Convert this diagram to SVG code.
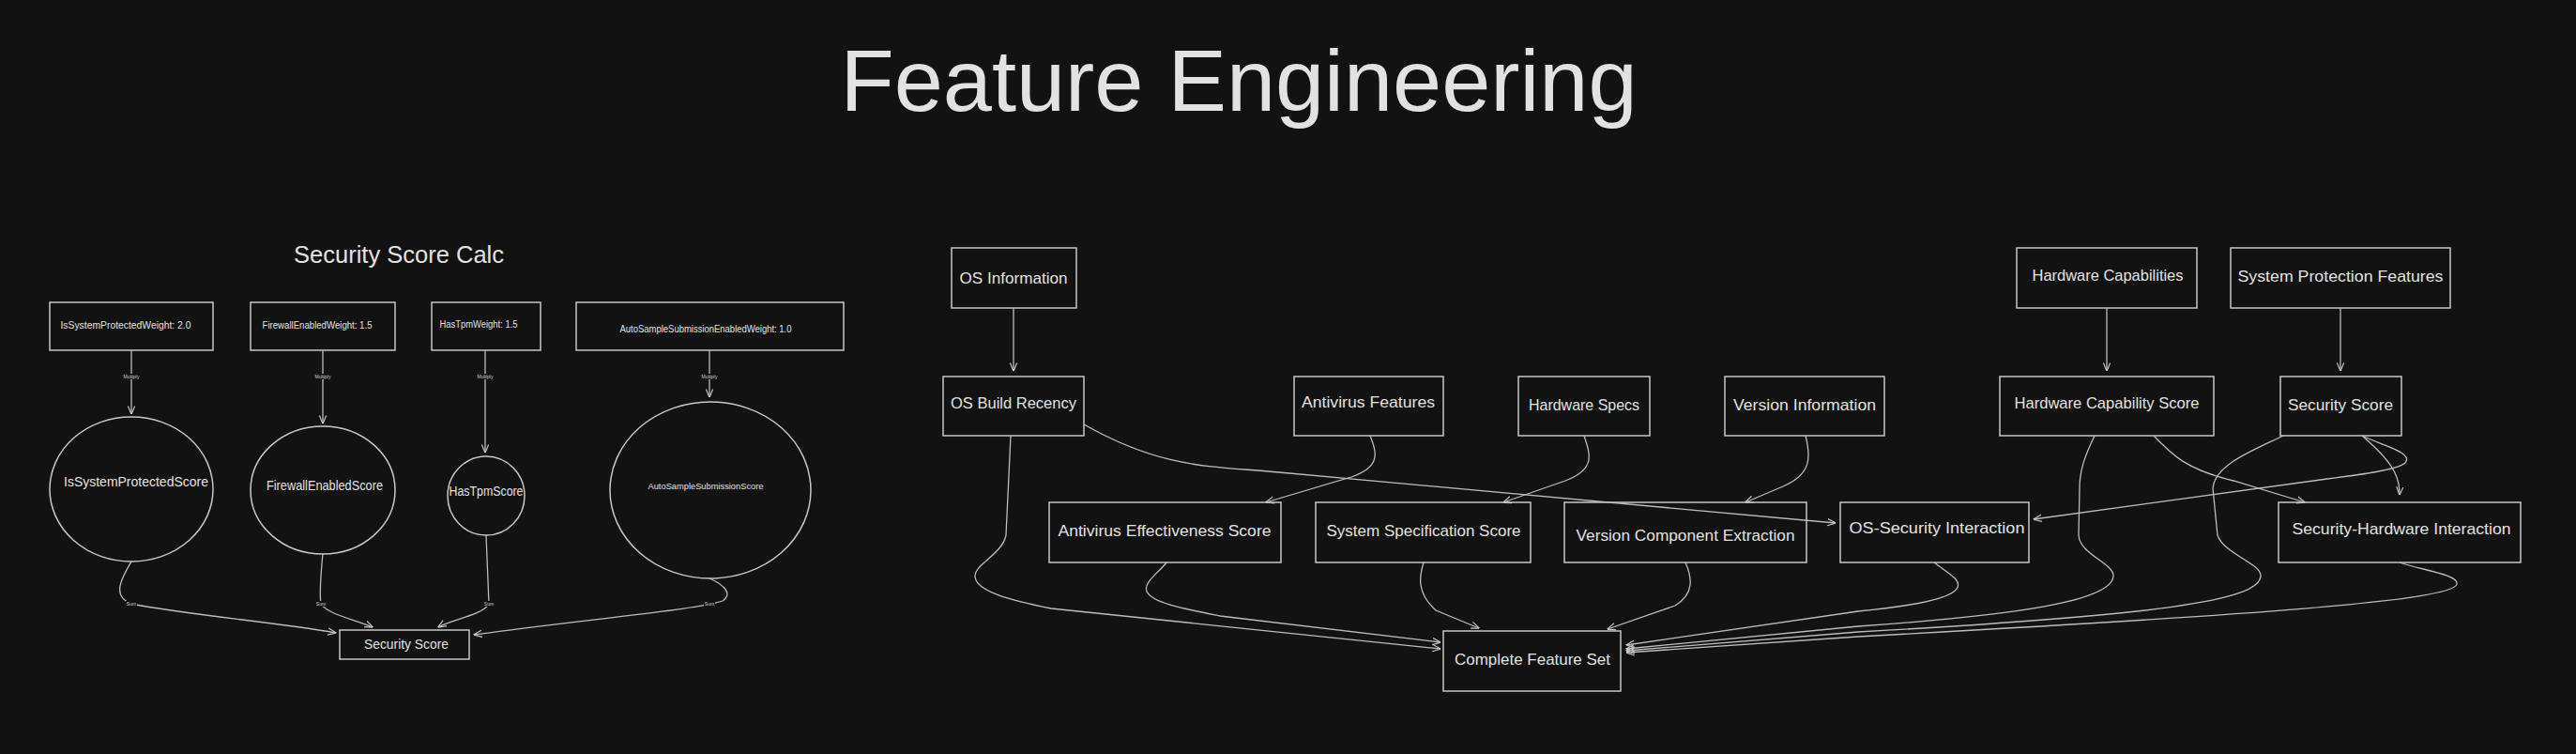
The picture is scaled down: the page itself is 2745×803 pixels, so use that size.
<svg xmlns="http://www.w3.org/2000/svg" width="2745" height="803" viewBox="0 0 2745 803">
<defs>
<style>
.bg{fill:#121212}
.box{fill:#121212;stroke:#c8c8c8;stroke-width:1.5}
.t{fill:#e2e2e2;font-family:"Liberation Sans",Arial,sans-serif;text-anchor:middle}
.n{font-size:17px}
.e{fill:none;stroke:#bdbdbd;stroke-width:1.3;marker-end:url(#arr)}
.lbl{fill:#121212}
.lt{fill:#cfcfcf;font-family:"Liberation Sans",Arial,sans-serif;font-size:5px;text-anchor:middle}
</style>
<marker id="arr" viewBox="0 0 10 10" refX="9.5" refY="5" markerWidth="9" markerHeight="9" markerUnits="userSpaceOnUse" orient="auto">
<path d="M0,1 L10,5 L0,9" fill="none" stroke="#c8c8c8" stroke-width="1.3"/>
</marker>
</defs>
<rect class="bg" x="0" y="0" width="2745" height="803"/>
<text class="t" x="1320" y="118" font-size="92" textLength="849" lengthAdjust="spacingAndGlyphs">Feature Engineering</text>
<text class="t" x="425" y="280" font-size="26" textLength="224" lengthAdjust="spacingAndGlyphs">Security Score Calc</text>

<g id="w1"><rect class="box" x="53" y="322" width="174" height="51"/><text class="t" x="134" y="350" font-size="10" textLength="139" lengthAdjust="spacingAndGlyphs">IsSystemProtectedWeight: 2.0</text></g>
<g id="w2"><rect class="box" x="267" y="322" width="154" height="51"/><text class="t" x="338" y="350" font-size="10" textLength="117" lengthAdjust="spacingAndGlyphs">FirewallEnabledWeight: 1.5</text></g>
<g id="w3"><rect class="box" x="460" y="322" width="116" height="51"/><text class="t" x="510" y="349" font-size="10" textLength="83" lengthAdjust="spacingAndGlyphs">HasTpmWeight: 1.5</text></g>
<g id="w4"><rect class="box" x="614" y="322" width="285" height="51"/><text class="t" x="752" y="354" font-size="10" textLength="183" lengthAdjust="spacingAndGlyphs">AutoSampleSubmissionEnabledWeight: 1.0</text></g>
<g id="e1"><ellipse class="box" cx="140" cy="521" rx="87" ry="77"/><text class="t" x="145" y="518" font-size="15" textLength="154" lengthAdjust="spacingAndGlyphs">IsSystemProtectedScore</text></g>
<g id="e2"><ellipse class="box" cx="344" cy="522" rx="77" ry="68"/><text class="t" x="346" y="522" font-size="15" textLength="124" lengthAdjust="spacingAndGlyphs">FirewallEnabledScore</text></g>
<g id="e3"><ellipse class="box" cx="518" cy="528" rx="41" ry="42"/><text class="t" x="518" y="528" font-size="14" textLength="79" lengthAdjust="spacingAndGlyphs">HasTpmScore</text></g>
<g id="e4"><ellipse class="box" cx="757" cy="522" rx="107" ry="94"/><text class="t" x="752" y="521" font-size="9" textLength="123" lengthAdjust="spacingAndGlyphs">AutoSampleSubmissionScore</text></g>
<g id="secscore_calc"><rect class="box" x="362" y="671" width="138" height="31"/><text class="t" x="433" y="691" font-size="14" textLength="90" lengthAdjust="spacingAndGlyphs">Security Score</text></g>

<g id="osinfo"><rect class="box" x="1014" y="264" width="133" height="64"/><text class="t n" x="1080" y="302" textLength="115" lengthAdjust="spacingAndGlyphs">OS Information</text></g>
<g id="osbuild"><rect class="box" x="1005" y="401" width="150" height="63"/><text class="t n" x="1080" y="435" textLength="134" lengthAdjust="spacingAndGlyphs">OS Build Recency</text></g>
<g id="avf"><rect class="box" x="1379" y="401" width="159" height="63"/><text class="t n" x="1458" y="434" textLength="142" lengthAdjust="spacingAndGlyphs">Antivirus Features</text></g>
<g id="hws"><rect class="box" x="1618" y="401" width="140" height="63"/><text class="t n" x="1688" y="437" textLength="118" lengthAdjust="spacingAndGlyphs">Hardware Specs</text></g>
<g id="veri"><rect class="box" x="1838" y="401" width="170" height="63"/><text class="t n" x="1923" y="437" textLength="152" lengthAdjust="spacingAndGlyphs">Version Information</text></g>
<g id="hwcap"><rect class="box" x="2149" y="264" width="192" height="64"/><text class="t n" x="2246" y="299" textLength="161" lengthAdjust="spacingAndGlyphs">Hardware Capabilities</text></g>
<g id="spf"><rect class="box" x="2377" y="264" width="234" height="64"/><text class="t n" x="2494" y="300" textLength="219" lengthAdjust="spacingAndGlyphs">System Protection Features</text></g>
<g id="hcs"><rect class="box" x="2131" y="401" width="228" height="63"/><text class="t n" x="2245" y="435" textLength="197" lengthAdjust="spacingAndGlyphs">Hardware Capability Score</text></g>
<g id="secs"><rect class="box" x="2430" y="401" width="129" height="63"/><text class="t n" x="2494" y="437" textLength="112" lengthAdjust="spacingAndGlyphs">Security Score</text></g>
<g id="aes"><rect class="box" x="1118" y="535" width="247" height="64"/><text class="t n" x="1241" y="571" textLength="227" lengthAdjust="spacingAndGlyphs">Antivirus Effectiveness Score</text></g>
<g id="sss"><rect class="box" x="1402" y="535" width="229" height="64"/><text class="t n" x="1517" y="571" textLength="207" lengthAdjust="spacingAndGlyphs">System Specification Score</text></g>
<g id="vce"><rect class="box" x="1667" y="535" width="258" height="64"/><text class="t n" x="1796" y="576" textLength="233" lengthAdjust="spacingAndGlyphs">Version Component Extraction</text></g>
<g id="osi"><rect class="box" x="1961" y="535" width="201" height="64"/><text class="t n" x="2064" y="568" textLength="187" lengthAdjust="spacingAndGlyphs">OS-Security Interaction</text></g>
<g id="shi"><rect class="box" x="2428" y="535" width="258" height="64"/><text class="t n" x="2559" y="569" textLength="233" lengthAdjust="spacingAndGlyphs">Security-Hardware Interaction</text></g>
<g id="cfs"><rect class="box" x="1538" y="672" width="189" height="64"/><text class="t n" x="1633" y="708" textLength="166" lengthAdjust="spacingAndGlyphs">Complete Feature Set</text></g>

<g id="connectors">
<path class="e" d="M140,373 L140,441"/>
<path class="e" d="M344,373 L344,451"/>
<path class="e" d="M517,373 L517,482"/>
<path class="e" d="M756,373 L756,423"/>
<path class="e" d="M140,598 C130,615 118,635 140,643 C200,655 290,662 358,674"/>
<path class="e" d="M344,589 C342,610 340,632 342,643 C350,655 380,660 397,668"/>
<path class="e" d="M518,570 L521,643 C515,655 480,660 467,668"/>
<path class="e" d="M756,616 C770,622 782,632 770,640 C740,650 620,660 505,676"/>
<g>
<rect class="lbl" x="127" y="398" width="26" height="6"/><text class="lt" x="140" y="403">Multiply</text>
<rect class="lbl" x="331" y="398" width="26" height="6"/><text class="lt" x="344" y="403">Multiply</text>
<rect class="lbl" x="504" y="398" width="26" height="6"/><text class="lt" x="517" y="403">Multiply</text>
<rect class="lbl" x="743" y="398" width="26" height="6"/><text class="lt" x="756" y="403">Multiply</text>
<rect class="lbl" x="134" y="640" width="12" height="6"/><text class="lt" x="140" y="645">Sum</text>
<rect class="lbl" x="336" y="640" width="12" height="6"/><text class="lt" x="342" y="645">Sum</text>
<rect class="lbl" x="515" y="640" width="12" height="6"/><text class="lt" x="521" y="645">Sum</text>
<rect class="lbl" x="750" y="640" width="12" height="6"/><text class="lt" x="756" y="645">Sum</text>
</g>
<path class="e" d="M1080,328 L1080,395"/>
<path class="e" d="M2245,328 L2245,395"/>
<path class="e" d="M2494,328 L2494,395"/>
<path class="e" d="M1155,452 C1240,500 1290,496 1363,503 L1956,557"/>
<path class="e" d="M1077,464 L1072,570 C1068,590 1040,600 1039,613 C1038,630 1080,640 1120,648 L1535,691"/>
<path class="e" d="M1460,464 C1467,482 1472,497 1440,508 L1349,535"/>
<path class="e" d="M1688,464 C1695,485 1700,500 1668,512 L1602,535"/>
<path class="e" d="M1924,464 C1930,488 1930,505 1900,518 L1860,535"/>
<path class="e" d="M1243,599 C1235,610 1218,620 1222,630 C1228,642 1260,648 1300,656 L1535,684"/>
<path class="e" d="M1517,599 C1512,615 1510,632 1530,650 L1576,669"/>
<path class="e" d="M1796,599 C1803,615 1806,632 1785,645 L1713,670"/>
<path class="e" d="M2061,599 C2075,610 2092,618 2085,627 C2078,638 2040,645 1980,651 L1733,687"/>
<path class="e" d="M2232,464 C2222,485 2216,500 2216,520 L2215,570 C2216,590 2252,600 2252,613 C2252,640 2150,655 1980,667 L1733,691"/>
<path class="e" d="M2433,464 C2400,480 2360,495 2358,520 L2363,570 C2370,590 2409,600 2409,613 C2409,640 2300,655 1980,673 L1733,693"/>
<path class="e" d="M2295,464 C2315,485 2330,500 2380,512 L2456,535"/>
<path class="e" d="M2517,464 C2540,475 2572,482 2563,493 C2555,500 2520,505 2480,510 L2167,553"/>
<path class="e" d="M2517,464 C2545,488 2558,505 2557,527"/>
<path class="e" d="M2557,599 C2580,607 2620,612 2618,622 C2615,640 2400,655 1980,678 L1733,695"/>
</g>
</svg>
